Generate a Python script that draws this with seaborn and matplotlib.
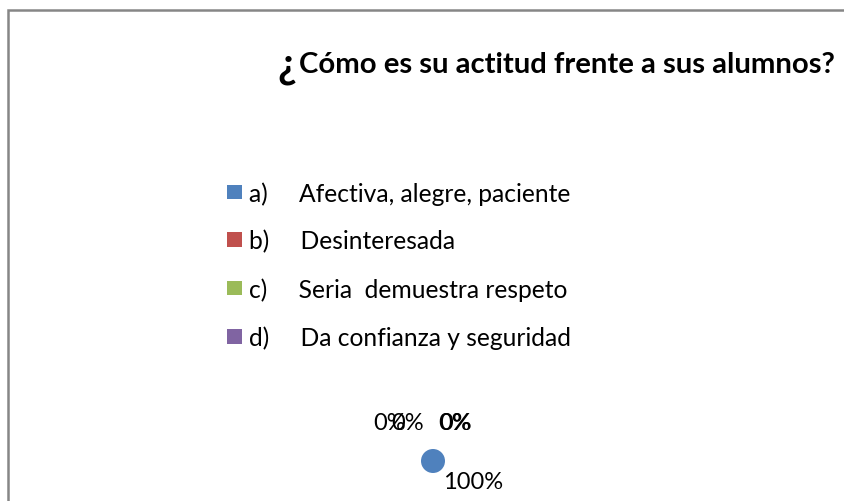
import matplotlib.pyplot as plt
import seaborn as sns
from matplotlib.patches import Patch, Rectangle

# chart data
categories = ["a)", "b)", "c)", "d)"]
descriptions = [
    "Afectiva, alegre, paciente",
    "Desinteresada",
    "Seria  demuestra respeto",
    "Da confianza y seguridad",
]
shares = [100, 0, 0, 0]
colors = ["#4F81BD", "#C0504D", "#9BBB59", "#8064A2"]
# data labels as drawn (overlapping 0% labels on top of the pie)
pct_labels = ["100%", "0%", "0%", "0%", "0%"]
label_offsets_px = [(40, -21), (-43, 38), (-25, 38), (22, 38), (23, 38)]

W, H = 844, 502

sns.set_theme(style="white")
plt.rcParams["font.family"] = ["Lato", "DejaVu Sans"]
plt.rcParams["text.color"] = "black"

fig = plt.figure(figsize=(W / 100, H / 100), dpi=100)

# outer chart frame (cut off at the right and bottom)
fig.patches.append(
    Rectangle((8 / W, -0.1), 1.0, 1 - 11 / H + 0.1, transform=fig.transFigure,
              fill=False, edgecolor="#868686", linewidth=1.8)
)

# title: the opening question mark is drawn bigger, like in the original
fig.text(277 / W, 1 - 66 / H, "¿", fontsize=30, fontweight="bold", va="center", ha="left")
fig.text(299 / W, 1 - 65 / H, "Cómo es su actitud frente a sus alumnos?", fontsize=21.1,
         fontweight="bold", va="center", ha="left")

# tiny pie
cx, cy, r = 433, 462, 12
ax = fig.add_axes([(cx - 4 * r) / W, (H - cy - 4 * r) / H, 8 * r / W, 8 * r / H])
wedges, _ = ax.pie(shares, colors=colors, startangle=90, counterclock=False, radius=1,
                   wedgeprops=dict(linewidth=0))
ax.set_xlim(-4, 4)
ax.set_ylim(-4, 4)
ax.set_aspect("equal")
ax.axis("off")

for text, (dx, dy) in zip(pct_labels, label_offsets_px):
    ax.annotate(text, xy=(0, 0), xytext=(dx * 0.72, dy * 0.72), textcoords="offset points",
                ha="center", va="center", fontsize=17, color="black", annotation_clip=False)

handles = [Patch(facecolor=c, edgecolor="none") for c in colors]
labels = [f"{c}     {d}" for c, d in zip(categories, descriptions)]
fig.legend(handles, labels, loc="center left", bbox_to_anchor=(227 / W, 1 - 266 / H),
           frameon=False, fontsize=17.7, handlelength=0.6, handleheight=0.55,
           handletextpad=0.3, labelspacing=1.0, borderpad=0, borderaxespad=0)

fig.savefig("out.png", dpi=100)
